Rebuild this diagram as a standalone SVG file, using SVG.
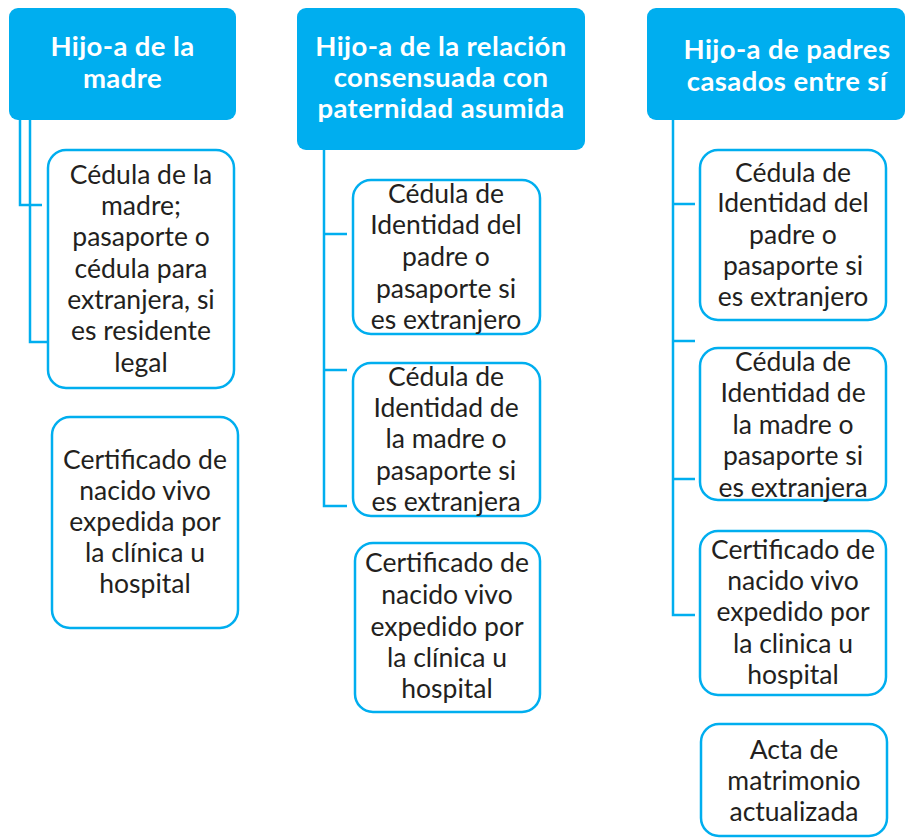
<svg xmlns="http://www.w3.org/2000/svg" width="912" height="838" viewBox="0 0 912 838">
<style>
.hdr{fill:#00AEEF;stroke:none}
.hdr-t{font-family:Lato,"Open Sans",sans-serif;font-weight:bold;font-size:27.5px;letter-spacing:0.4px;fill:#ffffff;text-anchor:middle}
.box{fill:#ffffff;stroke:#00AEEF;stroke-width:2.5}
.t{font-family:Lato,"Noto Sans",sans-serif;font-size:26.5px;fill:#231F20;text-anchor:middle}
.con{fill:none;stroke:#00AEEF;stroke-width:2.5}
</style>
<rect width="912" height="838" fill="#ffffff"/>
<g id="connectors">
<path class="con" d="M20,120 V205 H42"/>
<path class="con" d="M30,120 V342 H50"/>
<path class="con" d="M324,150 V506 H347 M324,234 H347 M324,370 H347"/>
<path class="con" d="M673,120 V615 H695 M673,204 H695 M673,341 H695 M673,479 H695"/>
</g>
<g id="h1"><rect class="hdr" x="9" y="8" width="227" height="112" rx="9"/>
<text class="hdr-t"><tspan x="122.5" y="56">Hijo-a de la</tspan><tspan x="122.5" y="88">madre</tspan></text></g>
<g id="h2"><rect class="hdr" x="297" y="8" width="288" height="142" rx="9"/>
<text class="hdr-t"><tspan x="441" y="56">Hijo-a de la relación</tspan><tspan x="441" y="87">consensuada con</tspan><tspan x="441" y="118">paternidad asumida</tspan></text></g>
<g id="h3"><rect class="hdr" x="647" y="8" width="258" height="112" rx="9"/>
<text class="hdr-t"><tspan x="787" y="59">Hijo-a de padres</tspan><tspan x="787" y="91">casados entre sí</tspan></text></g>

<g id="l1"><rect class="box" x="48" y="150" width="186" height="238" rx="18"/>
<text class="t"><tspan x="141" y="184">Cédula de la</tspan><tspan x="141" y="215">madre;</tspan><tspan x="141" y="246">pasaporte o</tspan><tspan x="141" y="278">cédula para</tspan><tspan x="141" y="309">extranjera, si</tspan><tspan x="141" y="340">es residente</tspan><tspan x="141" y="372">legal</tspan></text></g>
<g id="l2"><rect class="box" x="52" y="417" width="186" height="211" rx="18"/>
<text class="t"><tspan x="145" y="469">Certificado de</tspan><tspan x="145" y="500">nacido vivo</tspan><tspan x="145" y="531">expedida por</tspan><tspan x="145" y="562">la clínica u</tspan><tspan x="145" y="593">hospital</tspan></text></g>

<g id="m1"><rect class="box" x="353" y="180" width="187" height="154" rx="18"/>
<text class="t"><tspan x="446" y="203">Cédula de</tspan><tspan x="446" y="234">Identidad del</tspan><tspan x="446" y="266">padre o</tspan><tspan x="446" y="298">pasaporte si</tspan><tspan x="446" y="329">es extranjero</tspan></text></g>
<g id="m2"><rect class="box" x="353" y="363" width="187" height="153" rx="18"/>
<text class="t"><tspan x="446" y="386">Cédula de</tspan><tspan x="446" y="417">Identidad de</tspan><tspan x="446" y="448">la madre o</tspan><tspan x="446" y="480">pasaporte si</tspan><tspan x="446" y="511">es extranjera</tspan></text></g>
<g id="m3"><rect class="box" x="355" y="543" width="185" height="169" rx="18"/>
<text class="t"><tspan x="447" y="572">Certificado de</tspan><tspan x="447" y="604">nacido vivo</tspan><tspan x="447" y="636">expedido por</tspan><tspan x="447" y="667">la clínica u</tspan><tspan x="447" y="698">hospital</tspan></text></g>

<g id="r1"><rect class="box" x="700" y="150" width="186" height="170" rx="18"/>
<text class="t"><tspan x="793" y="182">Cédula de</tspan><tspan x="793" y="212">Identidad  del</tspan><tspan x="793" y="244">padre o</tspan><tspan x="793" y="275">pasaporte si</tspan><tspan x="793" y="306">es extranjero</tspan></text></g>
<g id="r2"><rect class="box" x="700" y="348" width="186" height="152" rx="18"/>
<text class="t"><tspan x="793" y="371">Cédula de</tspan><tspan x="793" y="402">Identidad de</tspan><tspan x="793" y="434">la madre o</tspan><tspan x="793" y="465">pasaporte si</tspan><tspan x="793" y="497">es extranjera</tspan></text></g>
<g id="r3"><rect class="box" x="700" y="531" width="186" height="164" rx="18"/>
<text class="t"><tspan x="793" y="559">Certificado de</tspan><tspan x="793" y="590">nacido vivo</tspan><tspan x="793" y="621">expedido por</tspan><tspan x="793" y="653">la clinica u</tspan><tspan x="793" y="684">hospital</tspan></text></g>
<g id="r4"><rect class="box" x="701" y="724" width="186" height="112" rx="18"/>
<text class="t"><tspan x="794" y="759">Acta de</tspan><tspan x="794" y="790">matrimonio</tspan><tspan x="794" y="821">actualizada</tspan></text></g>
</svg>
